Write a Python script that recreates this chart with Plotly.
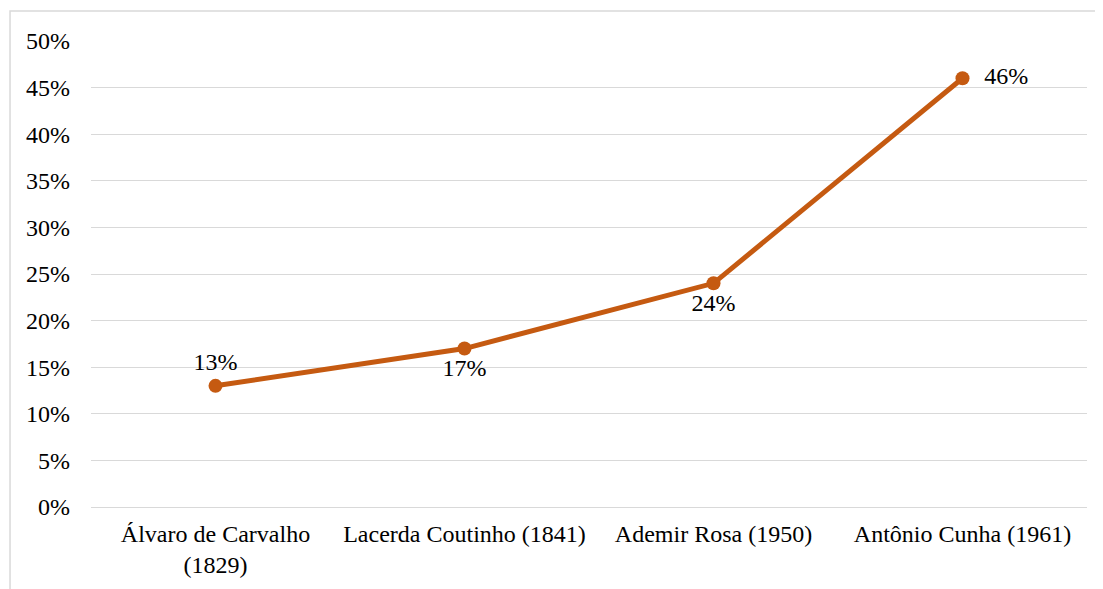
import plotly.graph_objects as go

categories = ["Álvaro de Carvalho<br>(1829)", "Lacerda Coutinho (1841)", "Ademir Rosa (1950)", "Antônio Cunha (1961)"]
values = [0.13, 0.17, 0.24, 0.46]
labels = ["13%", "17%", "24%", "46%"]
label_pos = ["top center", "bottom center", "bottom center", "middle right"]
y_ticks = [0, 0.05, 0.10, 0.15, 0.20, 0.25, 0.30, 0.35, 0.40, 0.45, 0.50]

color = "#C55A11"
font = "Liberation Serif, Times New Roman, serif"
fs = 24

fig = go.Figure()
fig.add_trace(go.Scatter(
    x=categories, y=values, mode="lines+markers+text",
    line=dict(color=color, width=5),
    marker=dict(color=color, size=14),
    text=["  " + t if p == "middle right" else t for t, p in zip(labels, label_pos)],
    textposition=label_pos,
    textfont=dict(family=font, size=fs, color="#000000"),
    cliponaxis=False,
    hoverinfo="skip",
))

fig.update_layout(
    width=1103, height=589,
    margin=dict(l=83, r=24, t=33, b=90),
    paper_bgcolor="white", plot_bgcolor="white",
    showlegend=False,
    font=dict(family=font, size=fs, color="#000000"),
    xaxis=dict(range=[-0.5, 3.5], showgrid=False, showline=False, zeroline=False,
               ticks="", ticklabelstandoff=10,
               tickfont=dict(family=font, size=fs, color="#000000")),
    yaxis=dict(range=[0, 0.5], tickvals=y_ticks, tickformat=".0%",
               showgrid=True, gridcolor="#d9d9d9", gridwidth=1.3,
               zeroline=True, zerolinecolor="#d9d9d9", zerolinewidth=1.3,
               showline=False, ticks="", ticklabelstandoff=20,
               tickfont=dict(family=font, size=fs, color="#000000")),
    shapes=[dict(type="rect", xref="paper", yref="paper",
                 x0=-0.0813, x1=1.05, y0=-0.25, y1=1.0644,
                 line=dict(color="#d9d9d9", width=1.5), fillcolor="rgba(0,0,0,0)", layer="below")],
)

fig.write_html("out.html")
